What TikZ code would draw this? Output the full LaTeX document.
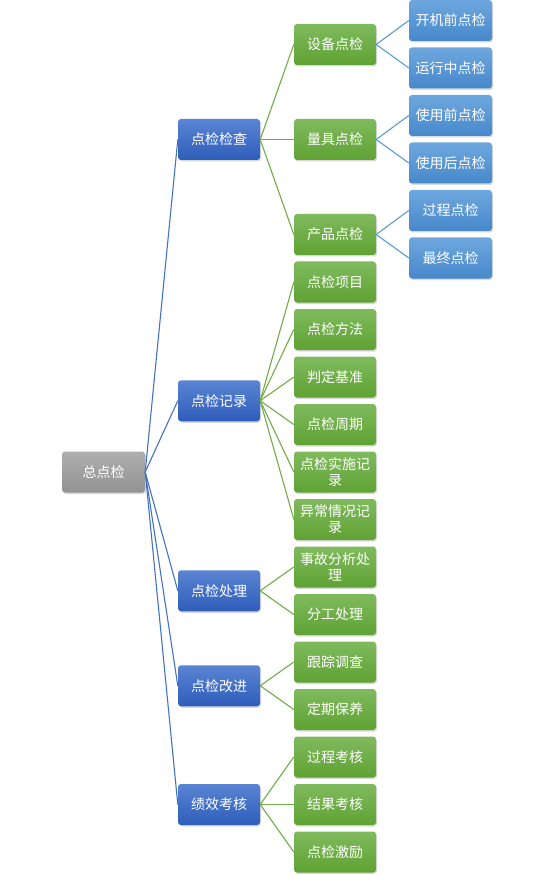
\documentclass[tikz,border=0pt]{standalone}
\usepackage{fontspec}
\newfontfamily\cjk{Noto Sans CJK SC}
\usepackage{tikz}
\usetikzlibrary{shadows}
\definecolor{graytop}{HTML}{AEAEAE}
\definecolor{graybot}{HTML}{939393}
\definecolor{bluetop}{HTML}{5A84D3}
\definecolor{bluebot}{HTML}{2E5DBA}
\definecolor{greentop}{HTML}{80BA5E}
\definecolor{greenbot}{HTML}{5FA233}
\definecolor{skytop}{HTML}{6EA7DE}
\definecolor{skybot}{HTML}{4788CB}
\definecolor{bluelink}{HTML}{4472C4}
\definecolor{greenlink}{HTML}{70AD47}
\definecolor{skylink}{HTML}{5B9BD5}

\begin{document}
\begin{tikzpicture}[x=1pt, y=-1pt,
  box/.style={rounded corners=3pt, minimum width=82pt, minimum height=41pt,
              inner sep=1pt, align=center, text=white,
              font=\cjk\fontsize{14}{16}\selectfont,
              drop shadow={shadow xshift=1pt, shadow yshift=-1.5pt, opacity=0.3}},
  rootbox/.style={box, minimum width=83pt, top color=graytop, bottom color=graybot},
  topic/.style={box, top color=bluetop, bottom color=bluebot},
  item/.style={box, top color=greentop, bottom color=greenbot},
  leaf/.style={box, minimum width=83pt, top color=skytop, bottom color=skybot},
  lnk/.style={line width=1.1pt}
]
\useasboundingbox (0,0) rectangle (554,874);

\node[rootbox] (root) at (103.5,472) {总点检};

\node[topic] (chk)  at (219,139.5)  {点检检查};
\node[topic] (rec)  at (219,400.75) {点检记录};
\node[topic] (prc)  at (219,590.75) {点检处理};
\node[topic] (imp)  at (219,685.75) {点检改进};
\node[topic] (perf) at (219,804.5)  {绩效考核};

\node[item] (dev)   at (335,44.5)  {设备点检};
\node[item] (gauge) at (335,139.5) {量具点检};
\node[item] (prod)  at (335,234.5) {产品点检};
\node[item] (pts)   at (335,282)   {点检项目};
\node[item] (meth)  at (335,329.5) {点检方法};
\node[item] (crit)  at (335,377)   {判定基准};
\node[item] (cyc)   at (335,424.5) {点检周期};
\node[item] (exe)   at (335,472)   {点检实施记\\录};
\node[item] (abn)   at (335,519.5) {异常情况记\\录};
\node[item] (acc)   at (335,567)   {事故分析处\\理};
\node[item] (div)   at (335,614.5) {分工处理};
\node[item] (trk)   at (335,662)   {跟踪调查};
\node[item] (mnt)   at (335,709.5) {定期保养};
\node[item] (pasm)  at (335,757)   {过程考核};
\node[item] (rasm)  at (335,804.5) {结果考核};
\node[item] (inc)   at (335,852)   {点检激励};

\node[leaf] (start) at (450.5,20.5)  {开机前点检};
\node[leaf] (run)   at (450.5,68)    {运行中点检};
\node[leaf] (pre)   at (450.5,115.5) {使用前点检};
\node[leaf] (post)  at (450.5,163)   {使用后点检};
\node[leaf] (proc)  at (450.5,210.5) {过程点检};
\node[leaf] (fin)   at (450.5,258)   {最终点检};

% root to topics
\draw[lnk, bluelink] (root.east) -- (chk.west);
\draw[lnk, bluelink] (root.east) -- (rec.west);
\draw[lnk, bluelink] (root.east) -- (prc.west);
\draw[lnk, bluelink] (root.east) -- (imp.west);
\draw[lnk, bluelink] (root.east) -- (perf.west);

% topics to items
\draw[lnk, greenlink] (chk.east) -- (dev.west);
\draw[lnk, greenlink] (chk.east) -- (gauge.west);
\draw[lnk, greenlink] (chk.east) -- (prod.west);
\draw[lnk, greenlink] (rec.east) -- (pts.west);
\draw[lnk, greenlink] (rec.east) -- (meth.west);
\draw[lnk, greenlink] (rec.east) -- (crit.west);
\draw[lnk, greenlink] (rec.east) -- (cyc.west);
\draw[lnk, greenlink] (rec.east) -- (exe.west);
\draw[lnk, greenlink] (rec.east) -- (abn.west);
\draw[lnk, greenlink] (prc.east) -- (acc.west);
\draw[lnk, greenlink] (prc.east) -- (div.west);
\draw[lnk, greenlink] (imp.east) -- (trk.west);
\draw[lnk, greenlink] (imp.east) -- (mnt.west);
\draw[lnk, greenlink] (perf.east) -- (pasm.west);
\draw[lnk, greenlink] (perf.east) -- (rasm.west);
\draw[lnk, greenlink] (perf.east) -- (inc.west);

% items to leaves
\draw[lnk, skylink] (dev.east) -- (start.west);
\draw[lnk, skylink] (dev.east) -- (run.west);
\draw[lnk, skylink] (gauge.east) -- (pre.west);
\draw[lnk, skylink] (gauge.east) -- (post.west);
\draw[lnk, skylink] (prod.east) -- (proc.west);
\draw[lnk, skylink] (prod.east) -- (fin.west);

\end{tikzpicture}
\end{document}
